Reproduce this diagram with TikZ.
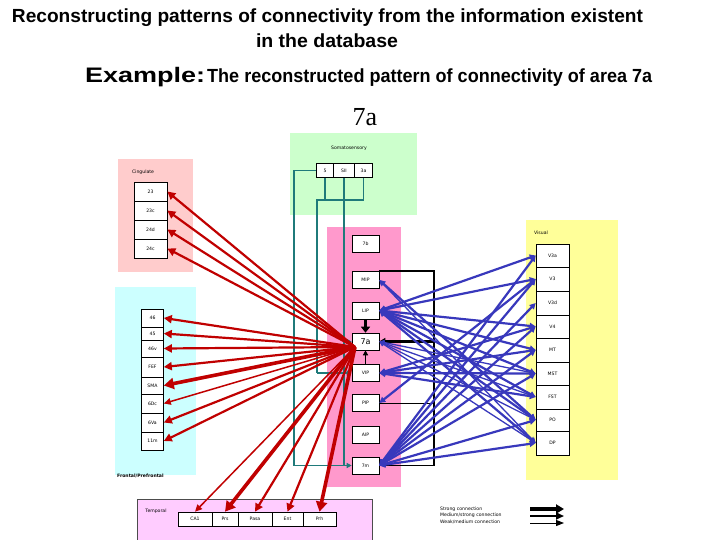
\documentclass[tikz,border=0pt]{standalone}
\usepackage{graphicx}
\usepackage{fontspec}
\setmainfont{DejaVu Sans}
\newfontfamily\titlefont{Liberation Sans}
\newfontfamily\seriffont{Liberation Serif}
\usetikzlibrary{arrows.meta}
\definecolor{somac}{HTML}{CCFFCC}
\definecolor{cingc}{HTML}{FFCCCC}
\definecolor{frontc}{HTML}{CCFFFF}
\definecolor{parc}{HTML}{FF99CC}
\definecolor{visc}{HTML}{FFFF99}
\definecolor{tempc}{HTML}{FFCCFF}
\definecolor{redc}{HTML}{C00000}
\definecolor{bluec}{HTML}{3838BC}
\definecolor{tealc}{HTML}{1F7A7A}
\tikzset{
  abox/.style={draw=black, fill=white, line width=0.6pt, inner sep=0pt, font=\fontsize{4.6}{5}\selectfont},
  cbox/.style={abox, minimum width=33pt, minimum height=19pt},
  fbox/.style={abox, minimum width=22pt},
  pbox/.style={abox, minimum width=27pt, minimum height=17pt},
  vbox/.style={abox, minimum width=33pt},
  tbox/.style={abox, minimum height=14pt},
  sbox/.style={abox, minimum width=19pt, minimum height=14pt},
  lbl/.style={inner sep=0pt, font=\fontsize{4.6}{5}\selectfont},
  redarr/.style={draw=redc, line width=2.2pt, -{Triangle[length=8pt,width=8pt]}},
  redthick/.style={draw=redc, line width=3.6pt, -{Triangle[length=10pt,width=11pt]}},
  redthin/.style={draw=redc, line width=1.5pt, -{Triangle[length=7pt,width=6.5pt]}},
  bluearr/.style={draw=bluec, line width=2.2pt, {Triangle[length=6pt,width=6pt]}-{Triangle[length=6pt,width=6pt]}},
  bluethin/.style={draw=bluec, line width=1.3pt, {Triangle[length=5pt,width=5pt]}-{Triangle[length=5pt,width=5pt]}},
  tealln/.style={draw=tealc, line width=1.6pt},
  tealarr/.style={tealln, -{Triangle[length=5pt,width=5pt]}},
}
\begin{document}
\begin{tikzpicture}[x=1pt,y=-1pt]
\useasboundingbox (0,0) rectangle (720,540);
\fill[white] (0,0) rectangle (720,540);

% titles
\node[inner sep=0pt] (title1) at (327.5,18) {\titlefont\bfseries\fontsize{19}{21}\selectfont\resizebox{631pt}{\height}{Reconstructing patterns of connectivity from the information existent}};
\node[inner sep=0pt] (title2) at (327,41) {\titlefont\bfseries\fontsize{19}{21}\selectfont\resizebox{142pt}{\height}{in the database}};
\node[inner sep=0pt, anchor=base west] (ex) at (85,83) {\titlefont\bfseries\fontsize{21}{23}\selectfont\resizebox{120pt}{\height}{Example:}};
\node[inner sep=0pt, anchor=base west] (ex2) at (207,83) {\titlefont\bfseries\fontsize{19}{21}\selectfont\resizebox{445pt}{\height}{The reconstructed pattern of connectivity of area 7a}};
\node[inner sep=0pt] (big7a) at (365,117) {\seriffont\fontsize{26}{28}\selectfont 7a};

% regions
\fill[somac] (290,133) rectangle (417,215);
\fill[cingc] (118,159) rectangle (193,272);
\fill[frontc] (115,287) rectangle (196,475);
\fill[parc] (327,227) rectangle (401,487);
\fill[visc] (526,220) rectangle (618,480);
\fill[tempc] (137,499) rectangle (372,540);
\draw[draw=black!70, line width=0.5pt] (137,540) -- (137,499) -- (372,499) -- (372,540);

\node[lbl] (lsoma) at (349,148) {Somatosensory};
\node[lbl] (lcing) at (143,172) {Cingulate};
\node[lbl] (lvis) at (541,233) {Visual};
\node[lbl, anchor=west, font=\bfseries\fontsize{4.6}{5}\selectfont] (lfront) at (117,476) {Frontal/Prefrontal};
\node[lbl] (ltemp) at (156,511) {Temporal};

% somatosensory boxes
\node[sbox, minimum width=17pt] (s5) at (325,170.5) {5};
\node[sbox, minimum width=21pt] (sSII) at (344,170.5) {SII};
\node[sbox, minimum width=18pt] (s3a) at (363.5,170.5) {3a};

% cingulate
\node[cbox] (c23) at (150.5,191.5) {23};
\node[cbox] (c23c) at (150.5,210.5) {23c};
\node[cbox] (c24d) at (150.5,229.5) {24d};
\node[cbox] (c24c) at (150.5,248.5) {24c};

% frontal
\node[fbox, minimum height=18pt] (f46) at (152.5,318) {46};
\node[fbox, minimum height=13pt] (f45) at (152.5,333.5) {45};
\node[fbox, minimum height=17pt] (f46v) at (152.5,348.5) {46v};
\node[fbox, minimum height=20pt] (fFEF) at (152.5,367) {FEF};
\node[fbox, minimum height=17pt] (fSMA) at (152.5,385.5) {SMA};
\node[fbox, minimum height=19pt] (f6Dc) at (152.5,403.5) {6Dc};
\node[fbox, minimum height=19pt] (f6Va) at (152.5,422.5) {6Va};
\node[fbox, minimum height=18pt] (f11m) at (152.5,441) {11m};

% parietal
\node[pbox] (p7b) at (365.5,244) {7b};
\node[pbox] (pMIP) at (365.5,280) {MIP};
\node[pbox] (pLIP) at (365.5,310.5) {LIP};
\node[pbox, font=\fontsize{8}{9}\selectfont] (p7a) at (365.5,341.5) {7a};
\node[pbox] (pVIP) at (365.5,373) {VIP};
\node[pbox] (pPIP) at (365.5,403) {PIP};
\node[pbox] (pAIP) at (365.5,434.5) {AIP};
\node[pbox] (p7m) at (365.5,465.5) {7m};

% visual
\node[vbox, minimum height=23pt] (vV3a) at (552.5,255.5) {V3a};
\node[vbox, minimum height=24pt] (vV3) at (552.5,279) {V3};
\node[vbox, minimum height=24pt] (vV3d) at (552.5,303) {V3d};
\node[vbox, minimum height=23pt] (vV4) at (552.5,326.5) {V4};
\node[vbox, minimum height=24pt] (vMT) at (552.5,350) {MT};
\node[vbox, minimum height=23pt] (vMST) at (552.5,373.5) {MST};
\node[vbox, minimum height=24pt] (vFST) at (552.5,397) {FST};
\node[vbox, minimum height=22pt] (vPO) at (552.5,420) {PO};
\node[vbox, minimum height=24pt] (vDP) at (552.5,443) {DP};

% temporal
\node[tbox, minimum width=34pt] (tCA1) at (195,519) {CA1};
\node[tbox, minimum width=26pt] (tPrs) at (225,519) {Prs};
\node[tbox, minimum width=34pt] (tPasa) at (255,519) {Pasa};
\node[tbox, minimum width=31pt] (tEnt) at (287.5,519) {Ent};
\node[tbox, minimum width=33pt] (tPrh) at (319.5,519) {Prh};

% teal somatosensory connections
\coordinate (tx1) at (294,0);
\coordinate (tx2) at (317,0);
\coordinate (ty) at (0,200);
\draw[tealln] (s5.west) -| (tx1 |- p7m.west);
\draw[tealarr] (tx1 |- p7m.west) -- (p7m.west);
\draw[tealln] (sSII.south) -- (sSII.south |- p7m.west);
\draw[tealarr] (sSII.south |- p7a.west) -- (p7a.west);
\draw[tealln] (s5.south) -- (s5.south |- ty);
\draw[tealln] (s3a.south) |- (tx2 |- ty) -- (tx2 |- pVIP.west);
\draw[tealarr] (tx2 |- pVIP.west) -- (pVIP.west);

% red efferents of 7a
\coordinate (o7a) at (355,347);
\draw[redarr] (o7a) -- (c23.east);
\draw[redarr] (o7a) -- (c23c.east);
\draw[redarr] (o7a) -- (c24d.east);
\draw[redarr] (o7a) -- (c24c.east);
\draw[redarr] (o7a) -- (f46.east);
\draw[redarr] (o7a) -- (f45.east);
\draw[redarr] (o7a) -- (f46v.east);
\draw[redarr] (o7a) -- (fFEF.east);
\draw[redthick] (o7a) -- (fSMA.east);
\draw[redthin] (o7a) -- (f6Dc.east);
\draw[redarr] (o7a) -- (f6Va.east);
\draw[redarr] (o7a) -- (f11m.east);
\draw[redthin] (o7a) -- (tCA1.north);
\draw[redthick] (o7a) -- (tPrs.north);
\draw[redarr] (o7a) -- (tPasa.north);
\draw[redarr] (o7a) -- (tEnt.north);
\draw[redthick] (o7a) -- (tPrh.north);

% black internal connections
\coordinate (bx) at (434,0);
\draw[line width=1.5pt] (pMIP.north east) -- (pMIP.north east -| bx) -- (bx |- p7m.east) -- (p7m.east);
\draw[line width=0.8pt] (pPIP.east) -- (pPIP.east -| bx);
\draw[line width=2.5pt, -{Triangle[length=6pt,width=7pt]}] (p7a.east -| bx) -- (p7a.east);
\draw[line width=3.5pt, -{Triangle[length=6pt,width=9pt]}] (pLIP.south) -- (p7a.north);
\draw[line width=1.5pt, -{Triangle[length=5pt,width=5pt]}] (pVIP.north) -- (p7a.south);

% blue reciprocal visual connections
\draw[bluearr] (pLIP.east) -- (vV3a.west);
\draw[bluearr] (pLIP.east) -- (vV3.west);
\draw[bluearr] (pLIP.east) -- (vV4.west);
\draw[bluearr] (pLIP.east) -- (vMT.west);
\draw[bluearr] (pLIP.east) -- (vMST.west);
\draw[bluearr] (pLIP.east) -- (vFST.west);
\draw[bluearr] (pLIP.east) -- (vPO.west);
\draw[bluearr] (pLIP.east) -- (vDP.west);
\draw[bluearr] (pMIP.east) -- (vPO.west);
\draw[bluethin] (pMIP.east) -- (vDP.west);
\draw[bluethin] (p7a.east) -- (vMST.west);
\draw[bluethin] (p7a.east) -- (vFST.west);
\draw[bluethin] (p7a.east) -- (vPO.west);
\draw[bluethin] (p7a.east) -- (vDP.west);
\draw[bluearr] (pVIP.east) -- (vV4.west);
\draw[bluearr] (pVIP.east) -- (vMT.west);
\draw[bluearr] (pVIP.east) -- (vMST.west);
\draw[bluearr] (pVIP.east) -- (vFST.west);
\draw[bluearr] (pPIP.east) -- (vV3.west);
\draw[bluearr] (p7m.east) -- (vV3a.west);
\draw[bluearr] (p7m.east) -- (vV3.west);
\draw[bluearr] (p7m.east) -- (vV3d.west);
\draw[bluearr] (p7m.east) -- (vV4.west);
\draw[bluearr] (p7m.east) -- (vMT.west);
\draw[bluearr] (p7m.east) -- (vMST.west);
\draw[bluearr] (p7m.east) -- (vPO.west);
\draw[bluearr] (p7m.east) -- (vDP.west);

% legend
\node[lbl, anchor=west] (lg1) at (440,509) {Strong connection};
\node[lbl, anchor=west] (lg2) at (440,515.5) {Medium/strong connection};
\node[lbl, anchor=west] (lg3) at (440,522) {Weak/medium connection};
\coordinate (a1s) at (530,509); \coordinate (a1e) at (564,509);
\coordinate (a2s) at (530,516); \coordinate (a2e) at (564,516);
\coordinate (a3s) at (530,523); \coordinate (a3e) at (564,523);
\draw[line width=3.6pt, -{Triangle[length=8pt,width=9pt]}] (a1s) -- (a1e);
\draw[line width=2.4pt, -{Triangle[length=8pt,width=7pt]}] (a2s) -- (a2e);
\draw[line width=1pt, -{Triangle[length=8pt,width=6pt]}] (a3s) -- (a3e);
\end{tikzpicture}
\end{document}
